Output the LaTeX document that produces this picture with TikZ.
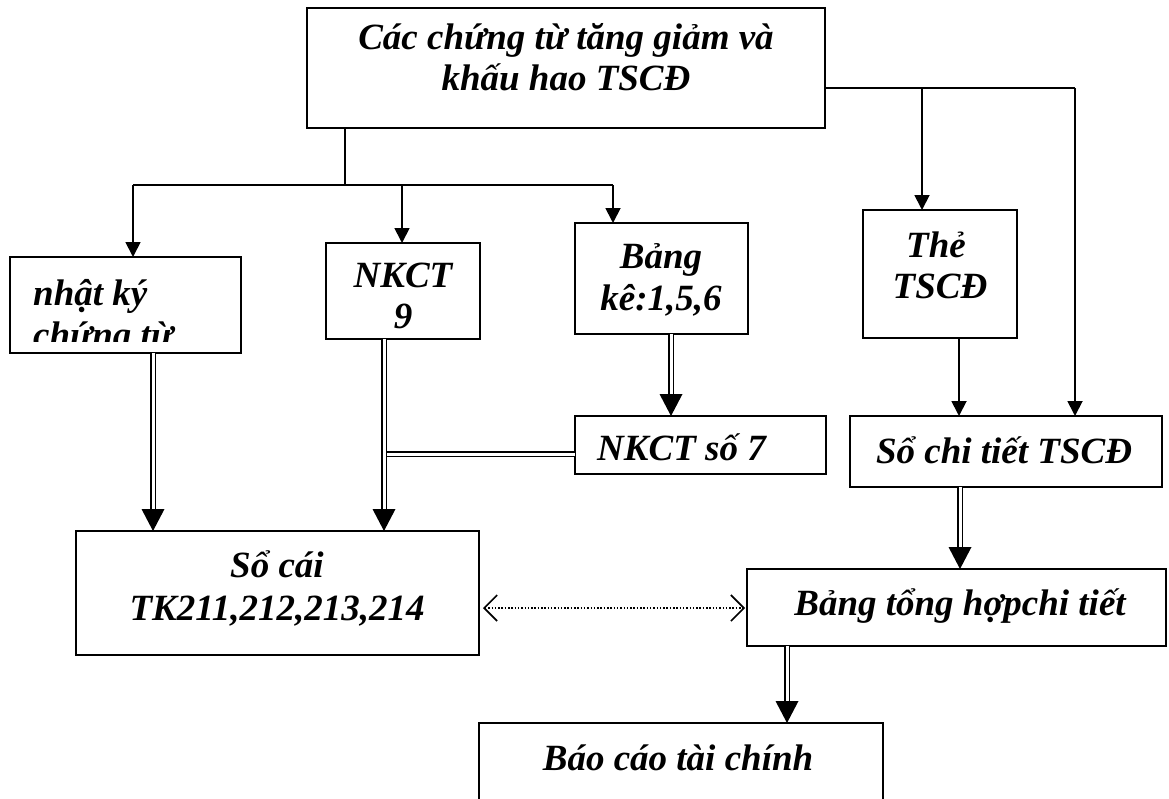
\documentclass[tikz,border=0pt]{standalone}
\usepackage{fontspec}
\setmainfont{Liberation Serif}
\usetikzlibrary{arrows.meta}
\newcommand\dblarr[2]{%
  \draw[dbl, shorten >=20pt] (#1) -- (#2);
  \fill (#2) -- ++(-11.5,-22) -- ++(23,0) -- cycle;}
\begin{document}
\begin{tikzpicture}[x=1pt,y=-1pt,
  box/.style={draw, line width=1.8pt, inner sep=0pt, outer sep=0pt, anchor=north west},
  lbl/.style={anchor=base, inner sep=0pt, font=\fontsize{37}{42}\selectfont\bfseries\itshape},
  lbll/.style={lbl, anchor=base west},
  conn/.style={line width=1.8pt},
  arr/.style={conn, -{Triangle[width=15pt,length=15pt]}},
  dbl/.style={double, line width=1.5pt, double distance=3pt},
  dots/.style={line width=1.5pt, dash pattern=on 1.5pt off 1.8pt,
    {Straight Barb[length=13pt,width=26pt,line width=1.6pt]}-{Straight Barb[length=13pt,width=26pt,line width=1.6pt]}}
]
\useasboundingbox (0,0) rectangle (1169,798);
\clip (0,0) rectangle (1169,798);

% boxes
\node[box, minimum width=518pt, minimum height=120pt] (top) at (307,8) {};
\node[box, minimum width=231pt, minimum height=96pt] (nk) at (10,257) {};
\node[box, minimum width=154pt, minimum height=96pt] (nk9) at (326,243) {};
\node[box, minimum width=173pt, minimum height=111pt] (bk) at (575,223) {};
\node[box, minimum width=154pt, minimum height=128pt] (the) at (863,210) {};
\node[box, minimum width=251pt, minimum height=58pt] (nk7) at (575,416) {};
\node[box, minimum width=312pt, minimum height=71pt] (sct) at (850,416) {};
\node[box, minimum width=403pt, minimum height=124pt] (sc) at (76,531) {};
\node[box, minimum width=419pt, minimum height=77pt] (bth) at (747,569) {};
\node[box, minimum width=404pt, minimum height=120pt] (bc) at (479,723) {};

% texts
\node[lbl] (t1) at (566,49) {Các chứng từ tăng giảm và};
\node[lbl] (t2) at (566,90) {khấu hao TSCĐ};
\begin{scope}
  \clip (10,257) rectangle (241,341);
  \node[lbll] (nk1) at (33,305) {nhật ký};
  \node[lbll] (nk2) at (33,347) {chứng từ};
\end{scope}
\node[lbl] (n91) at (403,287) {NKCT};
\node[lbl] (n92) at (403,328) {9};
\node[lbl] (bk1) at (661,268) {Bảng};
\node[lbl] (bk2) at (661,310) {kê:1,5,6};
\node[lbl] (th1) at (936,257) {Thẻ};
\node[lbl] (th2) at (940,298) {TSCĐ};
\node[lbll] (n71) at (597,460) {NKCT số 7};
\node[lbl] (sct1) at (1004,463) {Sổ chi tiết TSCĐ};
\node[lbl] (sc1) at (277,577) {Sổ cái};
\node[lbl] (sc2) at (277,620) {TK211,212,213,214};
\node[lbl] (bth1) at (960,615) {Bảng tổng hợpchi tiết};
\node[lbl] (bc1) at (678,770) {Báo cáo tài chính};

% junction coordinates
\coordinate (h1) at (345,185);
\coordinate (hl) at (133,185);
\coordinate (hm) at (402,185);
\coordinate (hr) at (613,185);
\coordinate (rc) at (1075,88);
\coordinate (tc) at (922,88);
\coordinate (tsx) at (959,0);
\coordinate (xa) at (153,0);
\coordinate (xb) at (384,0);
\coordinate (xc) at (671,0);
\coordinate (xd) at (960,0);
\coordinate (xe) at (787,0);
\coordinate (jy) at (0,454);
\coordinate (dy) at (0,608);

% single connectors
\draw[conn] (top.south -| h1) -- (h1);
\draw[conn] (hl) -- (hr);
\draw[arr] (hl) -- (hl |- nk.north);
\draw[arr] (hm) -- (hm |- nk9.north);
\draw[arr] (hr) -- (hr |- bk.north);
\draw[conn] (top.east |- rc) -- (rc);
\draw[arr] (rc) -- (rc |- sct.north);
\draw[arr] (tc) -- (tc |- the.north);
\draw[arr] (the.south -| tsx) -- (tsx |- sct.north);

% double connectors
\draw[dbl] (nk7.west |- jy) -- (xb |- jy);
\dblarr{nk.south -| xa}{xa |- sc.north}
\dblarr{nk9.south -| xb}{xb |- sc.north}
\dblarr{bk.south -| xc}{xc |- nk7.north}
\dblarr{sct.south -| xd}{xd |- bth.north}
\dblarr{bth.south -| xe}{xe |- bc.north}

% dotted two-way arrow
\draw[dots, shorten <=4pt, shorten >=2pt] (sc.east |- dy) -- (bth.west |- dy);
\end{tikzpicture}
\end{document}
